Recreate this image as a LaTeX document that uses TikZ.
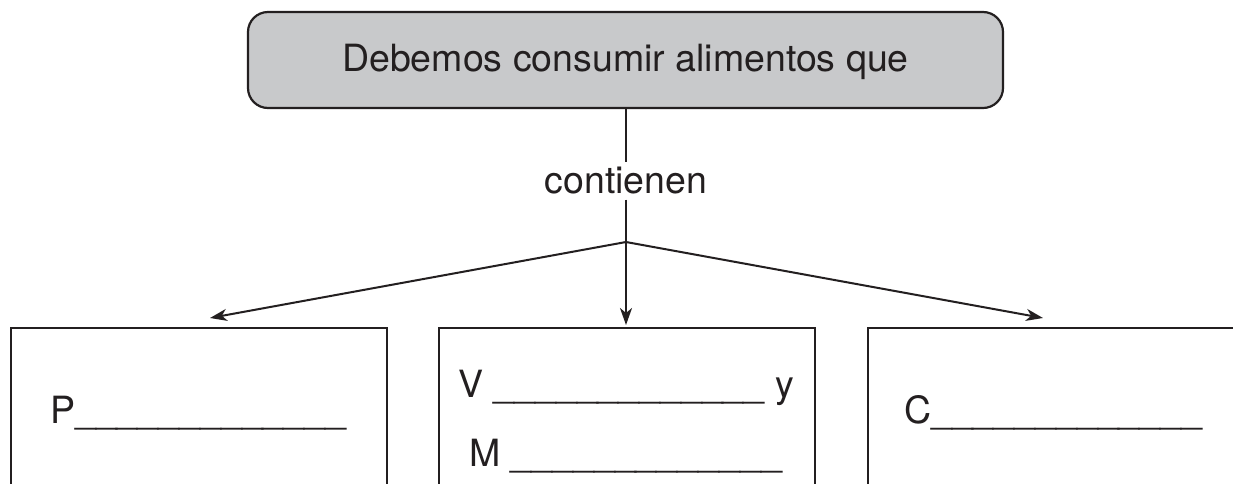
\documentclass[tikz,border=0pt]{standalone}
\usepackage{fontspec}
\setmainfont{TeX Gyre Heros}
\usetikzlibrary{arrows.meta}
\definecolor{boxgray}{RGB}{200,201,203}
\definecolor{ink}{RGB}{35,31,32}
\tikzset{
  txt/.style={font=\fontsize{37.5}{42}\selectfont, text=ink, inner sep=0pt},
  openbox/.style={draw=ink, line width=2.2pt, rectangle, minimum height=200pt, inner sep=0pt},
  conn/.style={draw=ink, line width=2pt},
  arr/.style={conn, -{Stealth[length=17pt,width=12pt,inset=5pt]}}
}
\begin{document}
\begin{tikzpicture}[x=1pt,y=-1pt]
\clip (0,0) rectangle (1233,483);
\fill[white] (0,0) rectangle (1233,483);
% top box
\node[draw=ink, line width=2.2pt, fill=boxgray, rounded corners=20pt, minimum width=755pt, minimum height=96pt, inner sep=0pt] (top) at (625.5,60) {};
\node[txt] (toptxt) at (625.5,62) {Debemos consumir alimentos que};
% label
\node[txt, inner ysep=5pt] (lab) at (626,181) {contienen};
\coordinate (split) at (626,242);
\draw[conn] (626,108) -- (lab.north);
\draw[conn] (lab.south) -- (split);
% boxes
\node[openbox, minimum width=376pt, anchor=north west] (b1) at (10,327) {};
\node[openbox, minimum width=376pt, anchor=north west] (b2) at (438,327) {};
\node[openbox, minimum width=400pt, anchor=north west] (b3) at (867,327) {};
\coordinate (t1) at (210,318);
\coordinate (t2) at (626,325);
\coordinate (t3) at (1043,318);
\draw[arr] (split) -- (t1);
\draw[arr] (split) -- (t2);
\draw[arr] (split) -- (t3);
% texts
\node[txt, anchor=base west] (p) at (50,423) {P\_\_\_\_\_\_\_\_\_\_\_\_\_};
\node[txt, anchor=base west] (v) at (458,397) {V \_\_\_\_\_\_\_\_\_\_\_\_\_ y};
\node[txt, anchor=base west] (m) at (469,466) {M \_\_\_\_\_\_\_\_\_\_\_\_\_};
\node[txt, anchor=base west] (c) at (904,423) {C\_\_\_\_\_\_\_\_\_\_\_\_\_};
\end{tikzpicture}
\end{document}
